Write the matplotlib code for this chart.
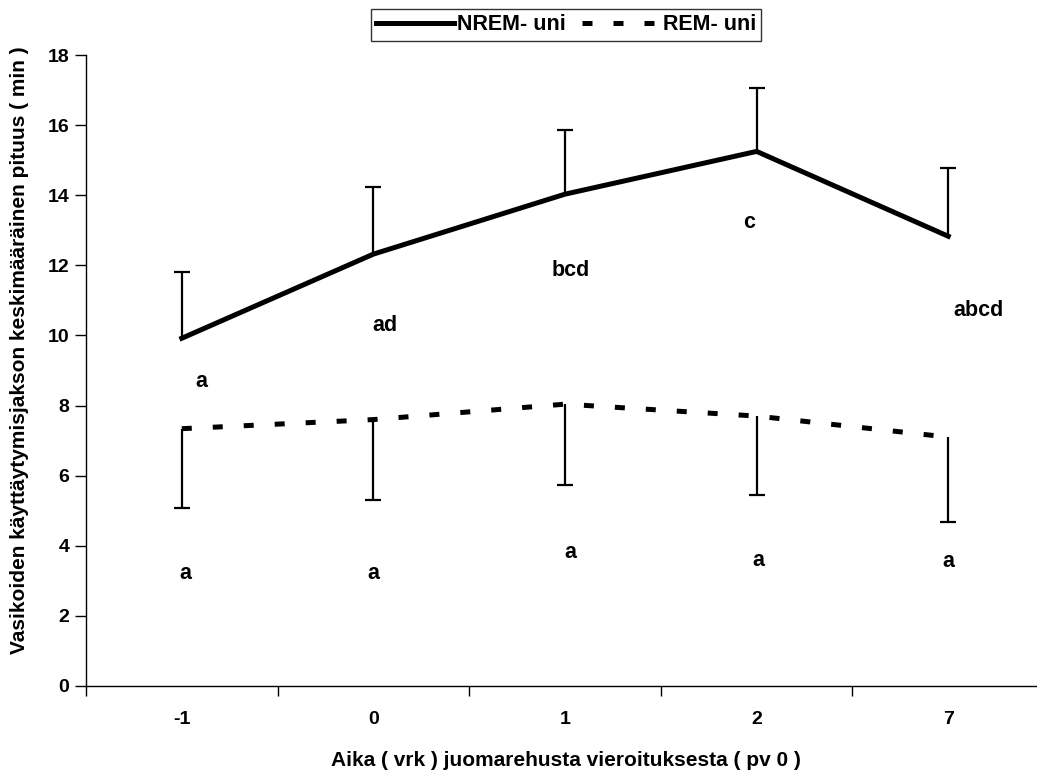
import numpy as np
import matplotlib.pyplot as plt

plt.rcParams['font.family'] = ['Liberation Sans', 'DejaVu Sans']
plt.rcParams['font.weight'] = 'bold'

# ---- Data ----
days = ['-1', '0', '1', '2', '7']
nrem = [9.92, 12.32, 14.03, 15.25, 12.83]
nrem_err = [1.88, 1.91, 1.82, 1.80, 1.95]
rem = [7.34, 7.60, 8.04, 7.70, 7.10]
rem_err = [2.27, 2.30, 2.31, 2.26, 2.42]

# significance letters: (text, x offset, y)
nrem_letters = ['a', 'ad', 'bcd', 'c', 'abcd']
nrem_letter_dx = [0.10, 0.06, 0.03, -0.04, 0.16]
nrem_letter_y = [8.70, 10.27, 11.86, 13.23, 10.72]
rem_letters = ['a', 'a', 'a', 'a', 'a']
rem_letter_dx = [0.02, 0.0, 0.03, 0.01, 0.0]
rem_letter_y = [3.22, 3.22, 3.82, 3.59, 3.54]

x = np.arange(len(days))
nrem = np.array(nrem)
rem = np.array(rem)

# ---- Figure ----
fig = plt.figure(figsize=(10.37, 7.73), dpi=100)
W, H = 1037, 773
ax = fig.add_axes([86 / W, (H - 686) / H, (1044 - 86) / W, (686 - 55) / H])

lw = 3.6
dash = (2.0, 4.2)
ax.plot(x, nrem, color='black', lw=lw, solid_joinstyle='miter',
        label='NREM- uni', zorder=3)
ax.plot(x, rem, color='black', lw=lw, dashes=dash,
        dash_capstyle='butt', label='REM- uni', zorder=3)

# one-sided error bars with a cap only at the outer end
nrem_top = nrem + np.array(nrem_err)
rem_bot = rem - np.array(rem_err)
ax.vlines(x, nrem, nrem_top, color='black', lw=1.6)
ax.vlines(x, rem_bot, rem, color='black', lw=1.6)
ax.plot(x, nrem_top, ls='none', marker='_', ms=11.5, mew=1.6, color='black')
ax.plot(x, rem_bot, ls='none', marker='_', ms=11.5, mew=1.6, color='black')

for i in range(len(x)):
    ax.text(x[i] + nrem_letter_dx[i], nrem_letter_y[i], nrem_letters[i],
            ha='center', va='center', fontsize=15.5, fontweight='bold')
    ax.text(x[i] + rem_letter_dx[i], rem_letter_y[i], rem_letters[i],
            ha='center', va='center', fontsize=15.5, fontweight='bold')

# ---- Axes ----
ax.set_xlim(-0.5, len(x) - 0.5)
ax.set_ylim(0, 18)
ax.set_yticks(np.arange(0, 19, 2))
ax.set_xticks(x)
ax.set_xticklabels(days)
ax.set_xticks(np.arange(-0.5, len(x), 1.0), minor=True)
ax.tick_params(axis='x', which='major', length=0, pad=18, labelsize=14)
ax.tick_params(axis='x', which='minor', length=7, width=1)
ax.tick_params(axis='y', length=8, width=1, labelsize=14, pad=4)
for lab in ax.get_xticklabels() + ax.get_yticklabels():
    lab.set_fontweight('bold')

ax.spines['top'].set_visible(False)
ax.spines['right'].set_visible(False)
ax.spines['left'].set_linewidth(1)
ax.spines['bottom'].set_linewidth(1)

fig.text(566 / W, 1 - 761 / H,
         'Aika ( vrk ) juomarehusta vieroituksesta ( pv 0 )',
         ha='center', va='center', fontsize=15, fontweight='bold')
fig.text(20 / W, 1 - 350 / H,
         'Vasikoiden käyttäytymisjakson keskimääräinen pituus ( min )',
         rotation=90, ha='center', va='center', fontsize=15,
         fontweight='bold')

leg = fig.legend(loc='upper center', bbox_to_anchor=(566 / W, 1 - 9 / H),
                 ncol=2, frameon=True, fancybox=False, edgecolor='black',
                 fontsize=15.5, handlelength=3.6, handletextpad=0.15,
                 columnspacing=0.75, borderpad=0.25, borderaxespad=0)
leg.get_frame().set_linewidth(1)
leg.get_lines()[1].set_dashes(dash)

fig.savefig('out.png', dpi=100)
